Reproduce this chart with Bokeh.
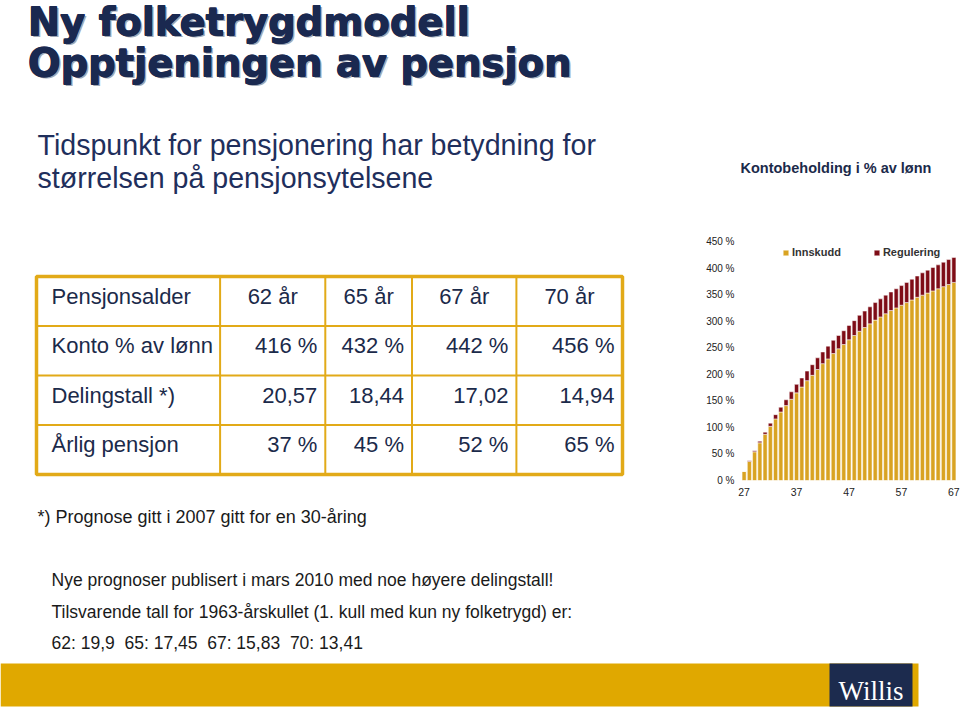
from bokeh.plotting import figure
from bokeh.layouts import column, row
from bokeh.models import ColumnDataSource, Range1d, FixedTicker, Legend, LegendItem
from bokeh.core.properties import value
from bokeh.embed import file_html
from bokeh.resources import INLINE

# ---------------- data ----------------
ages = list(range(27, 68))
innskudd = [17, 36, 54, 71, 87, 102, 116, 129, 141, 153, 165, 176, 188, 198, 209,
            220, 229, 239, 248, 256, 265, 273, 281, 288, 295, 302, 308, 314, 320,
            325, 330, 335, 340, 345, 349, 353, 357, 361, 365, 369, 373]
regulering = [0, 1, 2, 3, 4, 6, 8, 9, 11, 14, 16, 17, 18, 20, 22,
              22, 24, 25, 25, 26, 27, 28, 30, 31, 32, 33, 34, 35, 35,
              36, 37, 38, 39, 40, 42, 43, 44, 45, 46, 47, 47]
series_names = ["Innskudd", "Regulering"]
y_ticks = [0, 50, 100, 150, 200, 250, 300, 350, 400, 450]
y_tick_labels = ["0 %", "50 %", "100 %", "150 %", "200 %", "250 %", "300 %", "350 %", "400 %", "450 %"]
x_ticks = [27, 37, 47, 57, 67]

title_lines = ["Ny folketrygdmodell", "Opptjeningen av pensjon"]
subtitle_lines = ["Tidspunkt for pensjonering har betydning for", "størrelsen på pensjonsytelsene"]
chart_title = "Kontobeholding i % av lønn"
table_header = ["Pensjonsalder", "62 år", "65 år", "67 år", "70 år"]
table_rows = [
    ["Konto % av lønn", "416 %", "432 %", "442 %", "456 %"],
    ["Delingstall *)", "20,57", "18,44", "17,02", "14,94"],
    ["Årlig pensjon", "37 %", "45 %", "52 %", "65 %"],
]
footnote = "*) Prognose gitt i 2007 gitt for en 30-åring"
notes = [
    "Nye prognoser publisert i mars 2010 med noe høyere delingstall!",
    "Tilsvarende tall for 1963-årskullet (1. kull med kun ny folketrygd) er:",
    "62: 19,9 \u00a065: 17,45 \u00a067: 15,83 \u00a070: 13,41",
]
logo_text = "Willis"

# ---------------- styles ----------------
NAVY = "#1A2950"
TXT = "#1B2A4A"
GOLD = "#E2AA18"
BAND = "#E0A800"
YEL = "#D9A322"
RED = "#7E0C16"
SANS = "Liberation Sans"

W = 960
H_TOP, H_MID = 230, 270
H_BOT = 709 - H_TOP - H_MID
W_LEFT = 690
MB_TOP, MB_BOT = 11, 20   # chart frame borders (row aligns frames)


def bl(y, fs):
    """baseline correction for svg text placement"""
    return y - 0.31 * fs


def canvas(w, h, top=0, bottom=0):
    p = figure(width=w, height=h, x_range=Range1d(0, w), y_range=Range1d(h - bottom, top),
               output_backend="svg", toolbar_location=None, title=None,
               x_axis_location=None, y_axis_location=None, min_border=0,
               min_border_top=top, min_border_bottom=bottom)
    p.outline_line_color = None
    p.grid.visible = False
    p.background_fill_color = "white"
    p.border_fill_color = "white"
    return p


# ---------------- top ----------------
top = canvas(W, H_TOP)
TF = 38.5
tx, tb = 27, [bl(33, TF), bl(74, TF)]
top.text(x=[tx + 2.2] * 2, y=[b + 2.2 for b in tb], text=title_lines, text_font=value("DejaVu Sans"),
         text_font_size=f"{TF}px", text_font_style="bold", text_color="#A0A8B4",
         text_baseline="alphabetic")
for dx, dy in [(0, 0), (0.7, 0), (0, 0.6), (0.7, 0.6)]:
    top.text(x=[tx + dx] * 2, y=[b + dy for b in tb], text=title_lines, text_font=value("DejaVu Sans"),
             text_font_size=f"{TF}px", text_font_style="bold", text_color=NAVY,
             text_baseline="alphabetic")
SF = 28.6
top.text(x=[37, 37], y=[bl(153, SF), bl(186, SF)], text=subtitle_lines, text_font=value(SANS),
         text_font_size=f"{SF}px", text_color="#1F2F5C", text_baseline="alphabetic")
CF = 14.5
top.text(x=[740], y=[bl(172, CF)], text=[chart_title], text_font=value(SANS),
         text_font_size=f"{CF}px", text_font_style="bold", text_color=TXT,
         text_baseline="alphabetic")

# ---------------- middle left: table ----------------
left = canvas(W_LEFT, H_MID, top=MB_TOP, bottom=MB_BOT)
col_edges = [36, 219.6, 324.8, 411.5, 515.9, 622]
row_edges = [46, 95.5, 145, 194.5, 244]
left.segment(x0=col_edges[1:-1], y0=[row_edges[0]] * 4, x1=col_edges[1:-1], y1=[row_edges[-1]] * 4,
             line_color=GOLD, line_width=2)
left.segment(x0=[col_edges[0]] * 3, y0=row_edges[1:-1], x1=[col_edges[-1]] * 3, y1=row_edges[1:-1],
             line_color=GOLD, line_width=2)
left.quad(left=[col_edges[0]], right=[col_edges[-1]], top=[row_edges[0]], bottom=[row_edges[-1]],
          fill_color=None, line_color=GOLD, line_width=3.5)

FSN = 22
FS = f"{FSN}px"
baselines = [bl(y, FSN) for y in [72.8, 122.3, 171.8, 221.3]]
left.text(x=[51], y=[baselines[0]], text=[table_header[0]], text_font=value(SANS),
          text_font_size=FS, text_color=TXT, text_baseline="alphabetic")
centers = [(col_edges[i] + col_edges[i + 1]) / 2 for i in range(1, 5)]
left.text(x=centers, y=[baselines[0]] * 4, text=table_header[1:], text_font=value(SANS),
          text_font_size=FS, text_color=TXT, text_baseline="alphabetic", text_align="center")
for i, r in enumerate(table_rows):
    b = baselines[i + 1]
    left.text(x=[51], y=[b], text=[r[0]], text_font=value(SANS),
              text_font_size=FS, text_color=TXT, text_baseline="alphabetic")
    left.text(x=[e - 8 for e in col_edges[2:]], y=[b] * 4, text=r[1:], text_font=value(SANS),
              text_font_size=FS, text_color=TXT, text_baseline="alphabetic", text_align="right")

# ---------------- middle right: chart ----------------
src = ColumnDataSource(dict(age=ages, Innskudd=innskudd, Regulering=regulering))
ch = figure(width=W - W_LEFT, height=H_MID, x_range=Range1d(26.5, 67.5), y_range=Range1d(0, 450),
            output_backend="svg", toolbar_location=None, title=None,
            min_border_left=51, min_border_right=4, min_border_top=MB_TOP, min_border_bottom=MB_BOT)
ch.outline_line_color = None
ch.grid.visible = False
rs = ch.vbar_stack(series_names, x="age", width=0.78, color=[YEL, RED], source=src,
                   line_color="white", line_width=0.5)
ch.yaxis.ticker = FixedTicker(ticks=y_ticks)
ch.yaxis.major_label_overrides = {t: l for t, l in zip(y_ticks, y_tick_labels)}
ch.xaxis.ticker = FixedTicker(ticks=x_ticks)
for ax in (ch.xaxis, ch.yaxis):
    ax.axis_line_color = None
    ax.major_tick_line_color = None
    ax.minor_tick_line_color = None
    ax.major_tick_out = 0
    ax.major_tick_in = 0
    ax.minor_tick_out = 0
    ax.major_label_text_font = SANS
    ax.major_label_text_color = "#222222"
ch.yaxis.major_label_text_font_size = "10px"
ch.xaxis.major_label_text_font_size = "10.5px"
ch.yaxis.major_label_standoff = 7
ch.xaxis.major_label_standoff = 7
legend = Legend(items=[LegendItem(label=series_names[0], renderers=[rs[0]]),
                       LegendItem(label=series_names[1], renderers=[rs[1]])],
                orientation="horizontal", location=(41, 222), glyph_width=7, glyph_height=7,
                label_standoff=3, spacing=32, padding=0, margin=0, label_height=12,
                border_line_color=None, background_fill_alpha=0,
                label_text_font=SANS, label_text_font_size="11px",
                label_text_font_style="bold", label_text_color="#333333")
ch.add_layout(legend)

# ---------------- bottom ----------------
bot = canvas(W, H_BOT)
bot.text(x=[37], y=[bl(22, 18)], text=[footnote], text_font=value(SANS), text_font_size="18px",
         text_color="#1a1a1a", text_baseline="alphabetic")
NF = 17.5
bot.text(x=[51, 51, 51], y=[bl(y, NF) for y in [85, 117, 148]], text=notes, text_font=value(SANS),
         text_font_size=f"{NF}px", text_color="#1a1a1a", text_baseline="alphabetic")
bot.quad(left=[0], right=[918], top=[163], bottom=[206], fill_color=BAND, line_color=None)
bot.quad(left=[829], right=[912], top=[163], bottom=[206], fill_color="#1C2B4E", line_color=None)
bot.text(x=[870.5], y=[bl(199, 27)], text=[logo_text], text_font=value("Liberation Serif"),
         text_font_size="27px", text_color="white", text_baseline="alphabetic", text_align="center")

layout = column(top, row(left, ch), bot)
open("out.html", "w").write(file_html(layout, INLINE))
